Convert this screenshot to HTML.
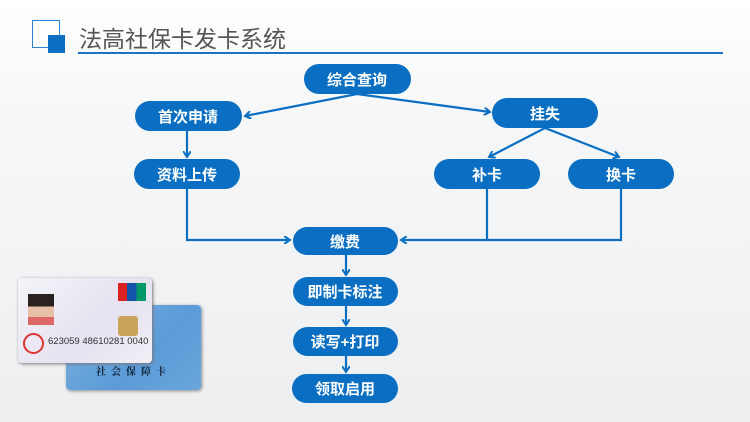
<!DOCTYPE html>
<html><head><meta charset="utf-8"><style>
body{margin:0;width:750px;height:422px;overflow:hidden;font-family:"Liberation Sans","Noto Sans CJK SC",sans-serif;background:linear-gradient(#ffffff 0%,#f6f7f8 30%,#eceef0 100%);position:relative}
.t{position:absolute;left:79px;top:20px;font-size:23px;color:#555;letter-spacing:0px}
.sq1{position:absolute;left:32px;top:20px;width:26px;height:26px;border:1.5px solid #2a82d0;background:#fff}
.sq2{position:absolute;left:48px;top:35px;width:17px;height:18px;background:#0a6fc2}
.line{position:absolute;left:78px;top:52px;width:645px;height:2px;background:#1a73c6}
.back{position:absolute;left:66px;top:305px;width:135px;height:85px;border-radius:4px;background:linear-gradient(135deg,#7fb3e0,#5b9bd8 60%,#6aa6dc);box-shadow:1px 1px 3px #888}
.back span{position:absolute;left:0;width:135px;top:58px;text-align:center;font-size:10px;font-family:"Noto Serif CJK SC",serif;color:#123;letter-spacing:5px;font-weight:bold}
.front{position:absolute;left:18px;top:278px;width:134px;height:85px;border-radius:4px;background:linear-gradient(135deg,#f4f3f8,#e6e2f0 60%,#f0eff5);box-shadow:1px 1px 3px #777}
.photo{position:absolute;left:10px;top:16px;width:26px;height:31px;background:linear-gradient(#2a2220 0 40%,#e8c0a8 40% 75%,#d66 75%)}
.chip{position:absolute;left:100px;top:38px;width:20px;height:20px;background:#c9a45a;border-radius:3px}
.up{position:absolute;left:100px;top:5px;width:28px;height:18px;background:linear-gradient(90deg,#d22 0 33%,#15a 33% 66%,#096 66%)}
.num{position:absolute;left:30px;top:58px;font-size:9.5px;color:#333}
.seal{position:absolute;left:5px;top:55px;width:17px;height:17px;border-radius:50%;border:2px solid #d33}
</style></head><body>
<div class="sq1"></div><div class="sq2"></div>
<div class="t">法高社保卡发卡系统</div>
<div class="line"></div>
<div class="back"><span>社会保障卡</span></div>
<div class="front"><div class="photo"></div><div class="up"></div><div class="chip"></div><div class="seal"></div><div class="num">623059 48610281 0040</div></div>
<svg width="750" height="422" style="position:absolute;left:0;top:0">
<defs><marker id="a" markerWidth="8" markerHeight="8" refX="6" refY="4" orient="auto" markerUnits="userSpaceOnUse"><path d="M0,0 L6,4 L0,8" fill="none" stroke="#0a6fc2" stroke-width="2"/></marker></defs>
<g stroke="#0a6fc2" stroke-width="2.2" fill="none">
<line x1="357" y1="94" x2="245" y2="116" marker-end="url(#a)"/>
<line x1="357" y1="94" x2="490" y2="112" marker-end="url(#a)"/>
<line x1="187" y1="131" x2="187" y2="157" marker-end="url(#a)"/>
<line x1="545" y1="128" x2="489" y2="157" marker-end="url(#a)"/>
<line x1="545" y1="128" x2="619" y2="157" marker-end="url(#a)"/>
<polyline points="187,189 187,240 290,240" marker-end="url(#a)"/>
<polyline points="621,189 621,240 401,240" marker-end="url(#a)"/>
<line x1="487" y1="189" x2="487" y2="240"/>
<line x1="346" y1="255" x2="346" y2="275" marker-end="url(#a)"/>
<line x1="346" y1="306" x2="346" y2="325" marker-end="url(#a)"/>
<line x1="346" y1="356" x2="346" y2="372" marker-end="url(#a)"/>
</g>
<g fill="#0a6fc2">
<rect x="304" y="64" width="107" height="30" rx="15"/>
<rect x="135" y="101" width="107" height="30" rx="15"/>
<rect x="492" y="98" width="106" height="30" rx="15"/>
<rect x="134" y="159" width="106" height="30" rx="15"/>
<rect x="434" y="159" width="106" height="30" rx="15"/>
<rect x="568" y="159" width="106" height="30" rx="15"/>
<rect x="293" y="227" width="105" height="28" rx="14"/>
<rect x="293" y="277" width="105" height="29" rx="14.5"/>
<rect x="293" y="327" width="105" height="29" rx="14.5"/>
<rect x="292" y="374" width="106" height="29" rx="14.5"/>
</g>
<g fill="#fff" font-size="15" font-weight="bold" text-anchor="middle" font-family="Liberation Sans,Noto Sans CJK SC,sans-serif">
<text x="357" y="85">综合查询</text>
<text x="188" y="122">首次申请</text>
<text x="545" y="119">挂失</text>
<text x="187" y="180">资料上传</text>
<text x="487" y="180">补卡</text>
<text x="621" y="180">换卡</text>
<text x="345" y="247">缴费</text>
<text x="345" y="297">即制卡标注</text>
<text x="345" y="347">读写+打印</text>
<text x="345" y="394">领取启用</text>
</g>
</svg>
</body></html>
